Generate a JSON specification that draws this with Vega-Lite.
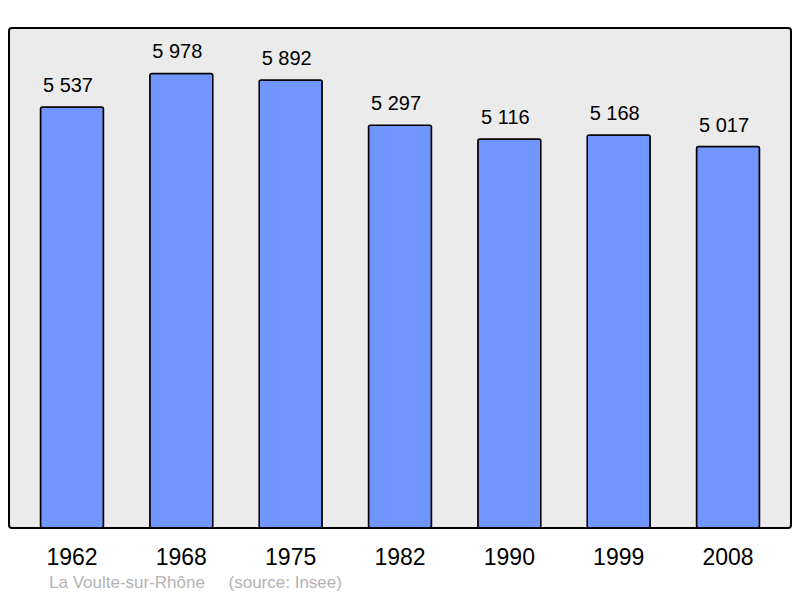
{
  "$schema": "https://vega.github.io/schema/vega-lite/v6.json",
  "autosize": "none",
  "width": 782,
  "height": 500,
  "padding": {"left": 9, "top": 28, "right": 9, "bottom": 70},
  "background": "white",
  "config": {
    "font": "Liberation Sans",
    "view": {"fill": "#ebebeb", "stroke": "#000000", "strokeWidth": 2, "cornerRadius": 3}
  },
  "title": {
    "text": "La Voulte-sur-Rhône\u00a0\u00a0\u00a0\u00a0\u00a0(source: Insee)",
    "orient": "bottom",
    "anchor": "start",
    "dx": 40,
    "offset": 6,
    "fontSize": 17,
    "fontWeight": "normal",
    "color": "#b3b3b3",
    "font": "Liberation Sans"
  },
  "data": {
    "values": [
      {"year": "1962", "population": 5537, "label": "5 537"},
      {"year": "1968", "population": 5978, "label": "5 978"},
      {"year": "1975", "population": 5892, "label": "5 892"},
      {"year": "1982", "population": 5297, "label": "5 297"},
      {"year": "1990", "population": 5116, "label": "5 116"},
      {"year": "1999", "population": 5168, "label": "5 168"},
      {"year": "2008", "population": 5017, "label": "5 017"}
    ]
  },
  "encoding": {
    "x": {
      "field": "year",
      "type": "nominal",
      "sort": null,
      "scale": {"paddingInner": 0.424, "paddingOuter": 0.288},
      "axis": {
        "title": null,
        "domain": false,
        "ticks": false,
        "tickSize": 0,
        "grid": false,
        "labelAngle": 0,
        "labelFontSize": 23,
        "labelColor": "#000000",
        "labelPadding": 18,
        "labelFont": "Liberation Sans"
      }
    },
    "y": {
      "field": "population",
      "type": "quantitative",
      "scale": {"domain": [0, 6576], "nice": false, "zero": true},
      "axis": null
    }
  },
  "layer": [
    {
      "mark": {"type": "bar", "fill": "#7196ff", "stroke": "#000000", "strokeWidth": 1.5, "cornerRadius": 2}
    },
    {
      "mark": {"type": "text", "fontSize": 20, "color": "#000000", "baseline": "alphabetic", "dy": -15, "dx": -4, "font": "Liberation Sans"},
      "encoding": {"text": {"field": "label"}}
    }
  ]
}
